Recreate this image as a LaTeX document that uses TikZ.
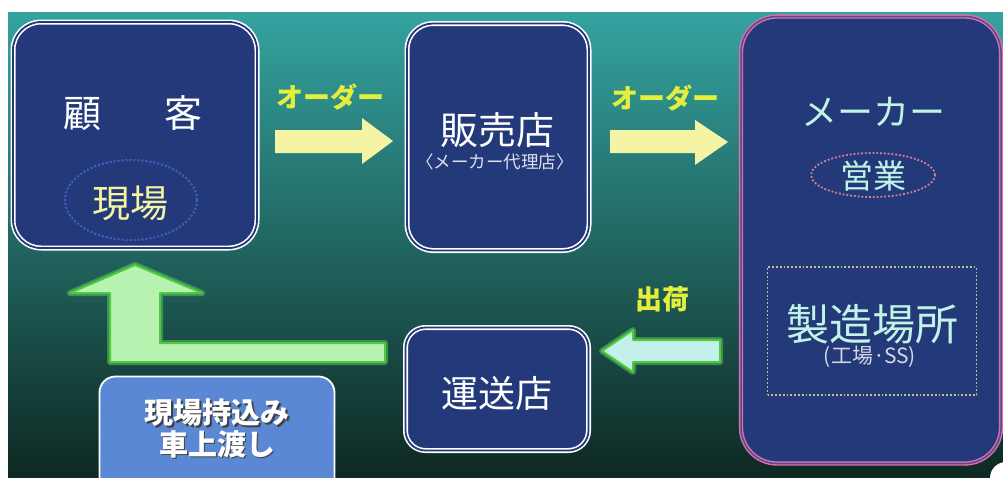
\documentclass[tikz,border=0pt]{standalone}
\usepackage{fontspec}
\setmainfont{Noto Sans CJK JP}
\usetikzlibrary{shapes.geometric}
\definecolor{boxnavy}{HTML}{24397A}
\definecolor{bgtop}{HTML}{34A3A0}
\definecolor{bgmid}{HTML}{1E6D64}
\definecolor{bgbot}{HTML}{0E2822}
\definecolor{ylab}{HTML}{E4EE3C}
\definecolor{yarrowc}{HTML}{F4F4A4}
\definecolor{gline}{HTML}{4CCC3C}
\definecolor{lgreen}{HTML}{B8F2B0}
\definecolor{lcyan}{HTML}{C4F0EC}
\definecolor{mtext}{HTML}{C0F4E6}
\definecolor{pinkline}{HTML}{D870B0}
\definecolor{notefill}{HTML}{5B88D4}
\definecolor{dotblue}{HTML}{3A62C0}
\definecolor{dotpink}{HTML}{D88090}
\definecolor{dotyel}{HTML}{C8C080}
\begin{document}
\begin{tikzpicture}[x=1pt,y=-1pt,
  whitebox/.style={draw=white, line width=1.6pt, double=boxnavy, double distance=1.8pt, fill=boxnavy, inner sep=0pt},
  makerbox/.style={draw=pinkline, line width=1.4pt, double=boxnavy!70!pinkline, double distance=1.5pt, fill=boxnavy, inner sep=0pt},
  notebox/.style={draw=white, line width=1.8pt, fill=notefill, inner sep=0pt, rounded corners=16pt},
  yarrow/.style={fill=yarrowc},
  garrowglow/.style={draw=gline!80, line width=6pt, line join=round, opacity=0.45},
  garrowline/.style={draw=gline, line width=2pt, line join=round},
  lbl/.style={inner sep=0pt, font=\bfseries\fontsize{27}{27}\selectfont, text=ylab},
  big/.style={inner sep=0pt, font=\fontsize{37}{37}\selectfont}
]
\useasboundingbox (0,0) rectangle (1003,477);
\clip (0,0) rectangle (1003,477);
\fill[white] (0,0) rectangle (1003,477);
\shade[top color=bgtop, middle color=bgmid, bottom color=bgbot] (8,12) rectangle (1003,477);

% boxes
\node[whitebox, rounded corners=28pt, minimum width=244pt, minimum height=226pt] (cust) at (135,135) {};
\node[whitebox, rounded corners=26pt, minimum width=182pt, minimum height=227pt] (deal) at (498,137) {};
\node[makerbox, rounded corners=36pt, minimum width=260pt, minimum height=447pt] (maker) at (871,240) {};
\node[whitebox, rounded corners=20pt, minimum width=183pt, minimum height=123pt] (trans) at (497,389) {};
\node[notebox, minimum width=235pt, minimum height=125pt] (note) at (217,439) {};

% customer contents
\node[big, text=white, font=\fontsize{38}{38}\selectfont] (kokyaku) at (133,113) {顧\hspace{64pt}客};
\node[draw=dotblue, dotted, line width=2pt, ellipse, minimum width=132pt, minimum height=80pt] (genbaE) at (131,200) {};
\node[big, text=yarrowc, font=\fontsize{38}{38}\selectfont] (genba) at (130,203) {現場};

% dealer contents
\node[big, text=white, font=\fontsize{38}{38}\selectfont] (hanbai) at (497,130) {販売店};
\node[inner sep=0pt, text=white!85!boxnavy, font=\fontsize{17.5}{17.5}\selectfont] (dairi) at (495,162) {〈メーカー代理店〉};

% maker contents
\node[inner sep=0pt, text=mtext, font=\fontsize{36}{36}\selectfont] (mk) at (873,112) {メーカー};
\node[draw=dotpink, dotted, line width=1.8pt, ellipse, minimum width=124pt, minimum height=44pt] (eigyoE) at (873,175) {};
\node[inner sep=0pt, text=mtext, font=\fontsize{33}{33}\selectfont] (eigyo) at (873,176) {営業};
\node[draw=dotyel, dotted, line width=1.8pt, minimum width=209pt, minimum height=128pt] (factE) at (872,331) {};
\node[inner sep=0pt, text=mtext, font=\fontsize{43}{43}\selectfont] (seizo) at (872,324) {製造場所};
\node[inner sep=0pt, text=white!80!boxnavy, font=\fontsize{21}{21}\selectfont] (kojo) at (870,357) {(工場·SS)};

% transport
\node[big, text=white, font=\fontsize{37}{37}\selectfont] (unso) at (497,393) {運送店};

% note text
\node[inner sep=0pt, text=black!75, font=\bfseries\fontsize{29}{29}\selectfont] at (218.5,414.5) {現場持込み};
\node[inner sep=0pt, text=black!75, font=\bfseries\fontsize{29}{29}\selectfont] at (218.5,445.5) {車上渡し};
\node[inner sep=0pt, text=white, font=\bfseries\fontsize{29}{29}\selectfont] (n1) at (217,413) {現場持込み};
\node[inner sep=0pt, text=white, font=\bfseries\fontsize{29}{29}\selectfont] (n2) at (217,444) {車上渡し};

% labels
\node[lbl] (ord1) at (330,97) {オーダー};
\node[lbl] (ord2) at (665,98) {オーダー};
\node[lbl] (ship) at (662,299) {出荷};

% yellow arrows
\fill[yarrow] (275,130) -- (362,130) -- (362,118) -- (393,141) -- (362,164) -- (362,153) -- (275,153) -- cycle;
\fill[yarrow] (610,130) -- (695,130) -- (695,120) -- (728,142) -- (695,165) -- (695,153) -- (610,153) -- cycle;

% shipping arrow
\path[garrowglow] (720,340) -- (633,340) -- (633,330) -- (602,351) -- (633,372) -- (633,362) -- (720,362) -- cycle;
\path[garrowline, fill=lcyan] (720,340) -- (633,340) -- (633,330) -- (602,351) -- (633,372) -- (633,362) -- (720,362) -- cycle;

% L arrow
\path[garrowglow] (110,362) -- (385,362) -- (385,343) -- (160,343) -- (160,293) -- (202,293) -- (135,265) -- (70,293) -- (110,293) -- cycle;
\path[garrowline, fill=lgreen] (110,362) -- (385,362) -- (385,343) -- (160,343) -- (160,293) -- (202,293) -- (135,265) -- (70,293) -- (110,293) -- cycle;

% corner circle
\fill[white] (1006,478) circle (16);
\end{tikzpicture}
\end{document}
